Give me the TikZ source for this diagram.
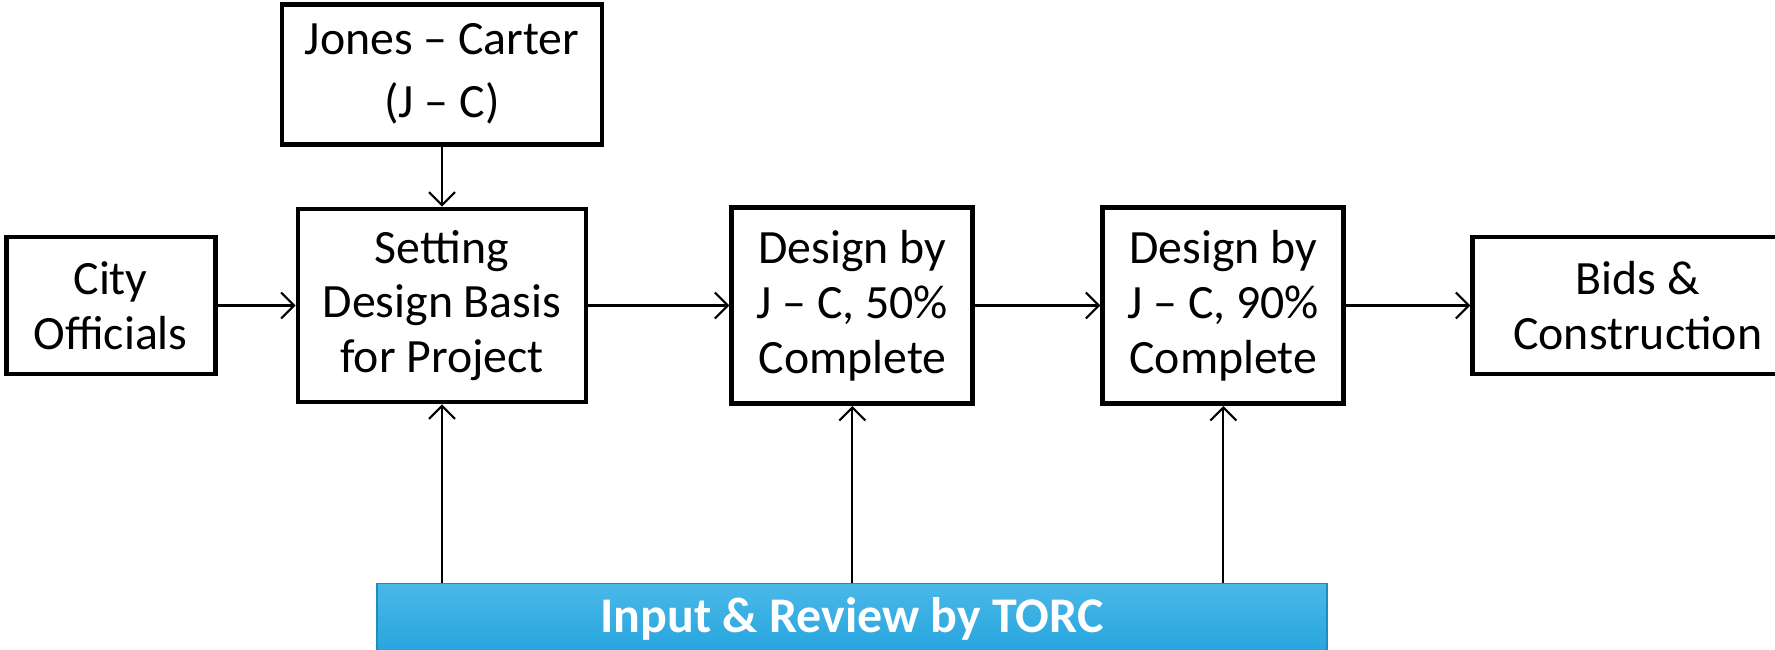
\documentclass[tikz,border=0pt]{standalone}
\usepackage{fontspec}
\setmainfont{Carlito}
\usepackage{tikz}
\usetikzlibrary{arrows.meta, positioning}
\definecolor{torcblue}{RGB}{38,164,222}
\definecolor{torclight}{RGB}{74,184,232}

\begin{document}
\begin{tikzpicture}[
    block/.style={rectangle, draw, line width=1.4pt, fill=white, align=center, inner sep=2pt, font=\fontsize{13.6}{15.6}\selectfont},
    line/.style={draw, line width=0.6pt, -{Straight Barb[length=1.3mm, width=2.6mm]}},
    bar/.style={rectangle, draw=torcblue!85!black, line width=0.4pt, top color=torclight, bottom color=torcblue, text=white, font=\fontsize{14.2}{16}\selectfont\bfseries, minimum width=9.5cm, minimum height=0.7cm},
    node distance=1.3cm
]
\useasboundingbox (0,0) rectangle (17.75,6.49);

% Nodes
\node[block, minimum width=2.88cm, minimum height=1.93cm] (setting) at (4.42,3.435) {Setting\\Design Basis\\for Project};
\node[block, minimum width=3.2cm, minimum height=1.4cm, above=0.6cm of setting, font=\fontsize{13.6}{18}\selectfont] (jones) {Jones – Carter\\(J – C)};
\node[block, minimum width=2.09cm, minimum height=1.37cm, left=0.78cm of setting] (city) {City\\Officials};
\node[block, minimum width=2.41cm, minimum height=1.96cm, right=1.41cm of setting] (design50) {Design by\\J – C, 50\%\\Complete};
\node[block, minimum width=2.41cm, minimum height=1.96cm, right=1.25cm of design50] (design90) {Design by\\J – C, 90\%\\Complete};
\node[block, minimum width=3.3cm, minimum height=1.37cm, right=1.24cm of design90] (bids) {Bids \&\\Construction};
\node[bar, anchor=north] (torc) at (8.52,0.66) {Input \& Review by TORC};

% Paths
\path[line] (jones) -- (setting);
\path[line] (city) -- (setting);
\path[line] (setting) -- (design50);
\path[line] (design50) -- (design90);
\path[line] (design90) -- (bids);

% Review inputs
\path[line] (torc.north -| setting.south) -- (setting.south);
\path[line] (torc.north -| design50.south) -- (design50.south);
\path[line] (torc.north -| design90.south) -- (design90.south);

\end{tikzpicture}
\end{document}
